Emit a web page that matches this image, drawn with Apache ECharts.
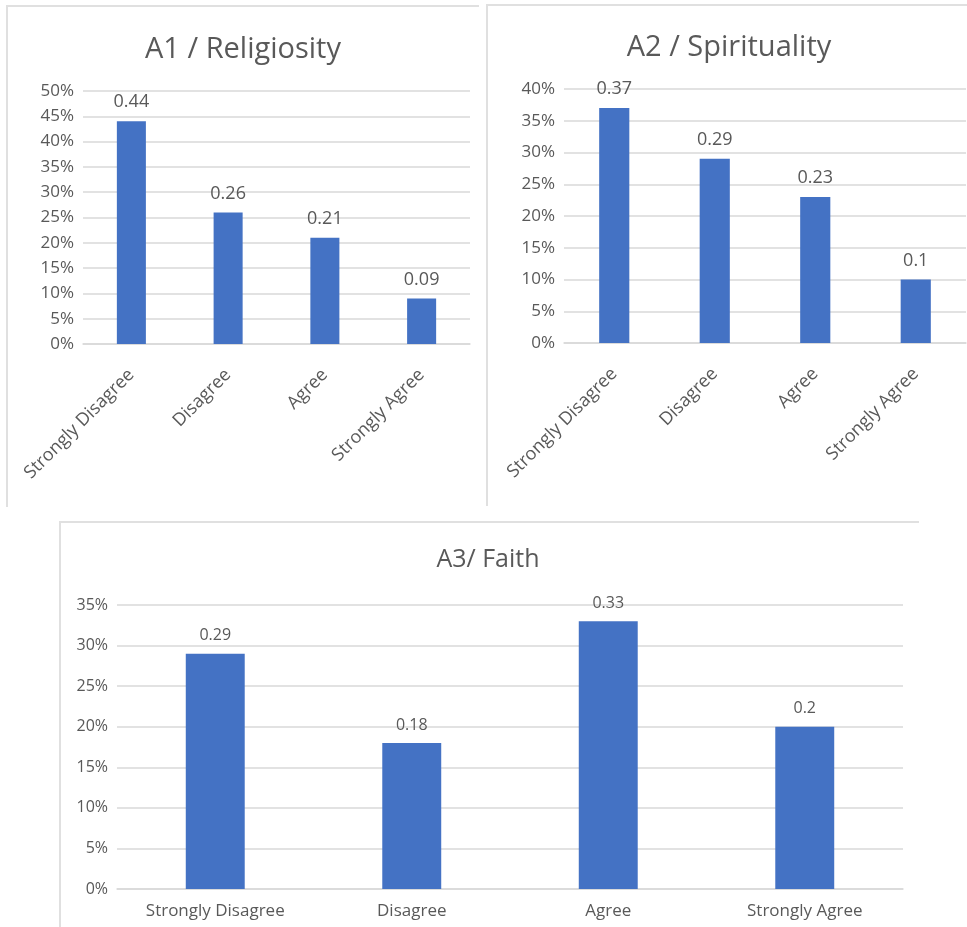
<!DOCTYPE html>
<html>
<head>
<meta charset="utf-8">
<title>A1 / A2 / A3</title>
<script src="https://cdn.jsdelivr.net/npm/echarts@6/dist/echarts.min.js"></script>
<style>
  html, body { margin: 0; padding: 0; background: #fff; }
  #chart { width: 967px; height: 927px; }
</style>
</head>
<body>
<div id="chart"></div>
<script>
// categories shared by the three charts
const categories = ['Strongly Disagree', 'Disagree', 'Agree', 'Strongly Agree']

const religiosity = [0.44, 0.26, 0.21, 0.09]
const spirituality = [0.37, 0.29, 0.23, 0.1]
const faith = [0.29, 0.18, 0.33, 0.2]

const titles = ['A1 / Religiosity', 'A2 / Spirituality', 'A3/ Faith']
const yMax = [0.5, 0.4, 0.35]

const FONT = 'Open Sans'
const TEXT = '#595959'
const GRIDLINE = '#d9d9d9'
const BAR = '#4472C4'
const BORDER = '#e0e0e0'

const chart = echarts.init(document.getElementById('chart'))

function pct(v) {
  return Math.round(v * 100) + '%'
}

function yAxis(idx, max, fontSize) {
  return {
    type: 'value',
    gridIndex: idx,
    min: 0,
    max: max,
    interval: 0.05,
    axisLine: { show: false },
    axisTick: { show: false },
    axisLabel: { formatter: pct, color: TEXT, fontFamily: FONT, fontSize: fontSize, margin: 9 },
    splitLine: { lineStyle: { color: GRIDLINE, width: 1.5 } }
  }
}

function xAxis(idx, rotate, fontSize, margin) {
  return {
    type: 'category',
    gridIndex: idx,
    data: categories,
    axisLine: { lineStyle: { color: GRIDLINE, width: 1.5 } },
    axisTick: { show: false },
    axisLabel: {
      rotate: rotate,
      interval: 0,
      color: TEXT,
      fontFamily: FONT,
      fontSize: fontSize,
      margin: margin
    }
  }
}

function barSeries(idx, data, fontSize, distance) {
  return {
    type: 'bar',
    xAxisIndex: idx,
    yAxisIndex: idx,
    data: data,
    barWidth: '30%',
    itemStyle: { color: BAR },
    label: {
      show: true,
      position: 'top',
      distance: distance,
      color: TEXT,
      fontFamily: FONT,
      fontSize: fontSize
    }
  }
}

function border(points) {
  return {
    type: 'polyline',
    shape: { points: points },
    style: { stroke: BORDER, lineWidth: 2, fill: null },
    silent: true
  }
}

const option = {
  backgroundColor: '#fff',
  animation: false,
  title: [
    { text: titles[0], left: 243, top: 35, textAlign: 'center', padding: 0,
      textStyle: { color: TEXT, fontFamily: FONT, fontSize: 29, fontWeight: 'normal' } },
    { text: titles[1], left: 729, top: 33, textAlign: 'center', padding: 0,
      textStyle: { color: TEXT, fontFamily: FONT, fontSize: 29, fontWeight: 'normal' } },
    { text: titles[2], left: 488, top: 547, textAlign: 'center', padding: 0,
      textStyle: { color: TEXT, fontFamily: FONT, fontSize: 25, fontWeight: 'normal' } }
  ],
  grid: [
    { left: 83, top: 91, width: 387, height: 253 },
    { left: 564, top: 89, width: 402, height: 254 },
    { left: 117, top: 605, width: 786, height: 284 }
  ],
  xAxis: [
    xAxis(0, 45, 18, 28),
    xAxis(1, 45, 18, 28),
    xAxis(2, 0, 17, 14)
  ],
  yAxis: [
    yAxis(0, yMax[0], 17),
    yAxis(1, yMax[1], 17),
    yAxis(2, yMax[2], 16)
  ],
  series: [
    barSeries(0, religiosity, 18, 10),
    barSeries(1, spirituality, 18, 10),
    barSeries(2, faith, 16, 10)
  ],
  graphic: [
    border([[7, 507], [7, 6], [479, 6]]),
    border([[487, 506], [487, 5], [967, 5]]),
    border([[60, 927], [60, 522], [919, 522]])
  ]
}

chart.setOption(option)
</script>
</body>
</html>
